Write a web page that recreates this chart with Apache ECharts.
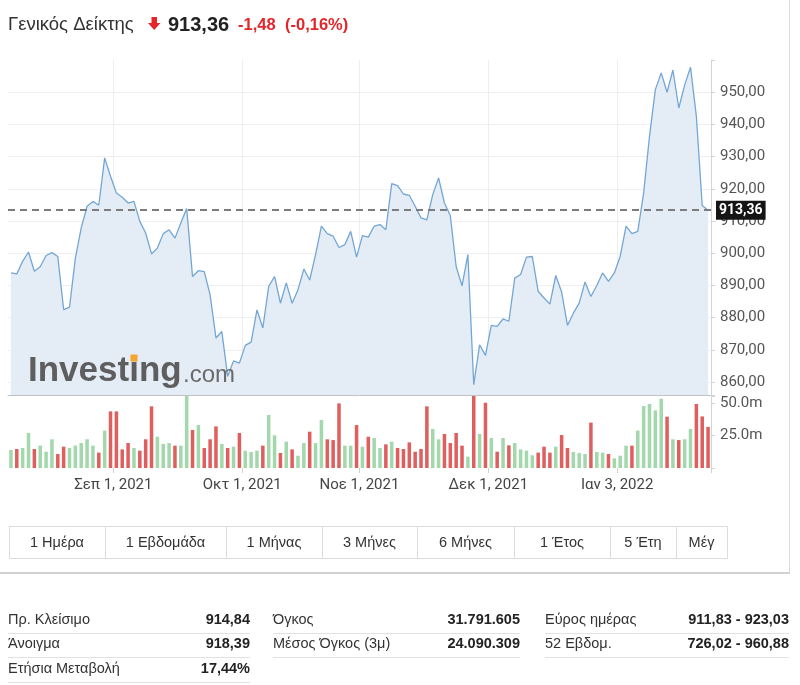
<!DOCTYPE html>
<html>
<head>
<meta charset="utf-8">
<script src="https://cdn.jsdelivr.net/npm/echarts@6/dist/echarts.min.js"></script>
<style>
html,body{margin:0;padding:0;background:#fff;}
#c{width:800px;height:685px;}
</style>
</head>
<body>
<div id="c"></div>
<script>
// ---------- DATA ----------
const dates = [
 '2021-08-05','2021-08-06','2021-08-09','2021-08-10','2021-08-11','2021-08-12','2021-08-13','2021-08-17','2021-08-18','2021-08-19',
 '2021-08-20','2021-08-23','2021-08-24','2021-08-25','2021-08-26','2021-08-27','2021-08-30','2021-08-31',
 '2021-09-01','2021-09-02','2021-09-03','2021-09-06','2021-09-07','2021-09-08','2021-09-09','2021-09-10','2021-09-13','2021-09-14',
 '2021-09-15','2021-09-16','2021-09-17','2021-09-20','2021-09-21','2021-09-22','2021-09-23','2021-09-24','2021-09-27','2021-09-28',
 '2021-09-29','2021-09-30',
 '2021-10-01','2021-10-04','2021-10-05','2021-10-06','2021-10-07','2021-10-08','2021-10-11','2021-10-12','2021-10-13','2021-10-14',
 '2021-10-15','2021-10-18','2021-10-19','2021-10-20','2021-10-21','2021-10-22','2021-10-25','2021-10-26','2021-10-27','2021-10-29',
 '2021-11-01','2021-11-02','2021-11-03','2021-11-04','2021-11-05','2021-11-08','2021-11-09','2021-11-10','2021-11-11','2021-11-12',
 '2021-11-15','2021-11-16','2021-11-17','2021-11-18','2021-11-19','2021-11-22','2021-11-23','2021-11-24','2021-11-25','2021-11-26',
 '2021-11-29','2021-11-30',
 '2021-12-01','2021-12-02','2021-12-03','2021-12-06','2021-12-07','2021-12-08','2021-12-09','2021-12-10','2021-12-13','2021-12-14',
 '2021-12-15','2021-12-16','2021-12-17','2021-12-20','2021-12-21','2021-12-22','2021-12-23','2021-12-27','2021-12-28','2021-12-29',
 '2021-12-30','2021-12-31',
 '2022-01-03','2022-01-04','2022-01-05','2022-01-07','2022-01-10','2022-01-11','2022-01-12','2022-01-13','2022-01-14','2022-01-17',
 '2022-01-18','2022-01-19','2022-01-20','2022-01-21','2022-01-24','2022-01-25'
];

const closePrices = [
 893.9, 893.6, 897.5, 900.4, 894.4, 895.8, 899.3, 900.2, 899.0, 882.5,
 883.3, 898.5, 907.9, 914.6, 916.1, 914.9, 929.6, 923.9, 918.7, 917.4,
 915.6, 916.1, 909.9, 906.3, 899.8, 901.6, 906.1, 907.3, 904.7, 909.4,
 913.9, 892.8, 894.6, 894.3, 887.1, 873.7, 875.7, 861.8, 866.6, 865.9,
 871.4, 872.4, 882.4, 876.8, 889.7, 892.8, 884.5, 890.8, 884.5, 888.7,
 895.1, 891.7, 899.6, 908.4, 906.1, 905.3, 901.8, 902.7, 906.8, 898.8,
 905.5, 905.0, 908.4, 908.9, 907.3, 921.6, 921.0, 918.4, 918.0, 914.6,
 911.0, 910.4, 918.2, 923.4, 915.6, 911.7, 895.9, 889.9, 899.6, 859.2,
 871.6, 868.3, 877.6, 877.3, 879.6, 878.9, 892.3, 893.4, 898.8, 899.0,
 888.2, 886.1, 884.2, 893.1, 888.0, 877.6, 881.4, 884.5, 891.1, 886.6,
 890.0, 893.9, 891.3, 893.9, 899.1, 908.4, 906.1, 906.8, 918.7, 936.3,
 950.8, 956.0, 950.0, 956.9, 945.1, 952.2, 957.8, 942.6, 914.84, 913.36
];

// volume in millions
const volumes = [
 13.9, 14.7, 15.5, 27.1, 14.7, 17.3, 12.6, 22.2, 10.8, 16.5,
 15.5, 17.3, 19.3, 22.2, 17.3, 11.9, 28.9, 43.8, 43.8, 14.4,
 19.3, 15.5, 13.4, 22.2, 47.7, 24.2, 18.6, 19.3, 17.3, 17.3,
 58.0, 29.4, 33.2, 15.5, 22.2, 32.2, 18.6, 15.5, 16.5, 27.1,
 13.4, 12.4, 13.4, 17.3, 41.0, 25.3, 11.6, 20.4, 14.4, 9.5,
 19.3, 28.1, 19.3, 37.1, 22.2, 21.6, 50.0, 17.3, 17.3, 33.2,
 16.5, 24.2, 23.2, 15.5, 18.3, 20.4, 15.5, 14.7, 19.8, 12.6,
 14.7, 47.7, 30.2, 22.2, 26.3, 19.3, 27.1, 17.3, 8.8, 57.0,
 26.3, 50.5, 23.2, 12.6, 23.2, 17.5, 19.3, 14.4, 13.4, 9.8,
 11.9, 16.5, 11.9, 16.5, 25.5, 15.5, 12.4, 11.6, 10.8, 35.1,
 12.4, 11.9, 10.8, 7.5, 9.5, 17.3, 17.3, 28.9, 47.9, 49.5,
 44.6, 53.6, 39.7, 22.2, 21.6, 22.2, 30.2, 49.5, 39.9, 31.8
];

const tickDates = ['2021-09-01','2021-10-01','2021-11-01','2021-12-01','2022-01-03'];
const tickLabels = ['Σεπ 1, 2021','Οκτ 1, 2021','Νοε 1, 2021','Δεκ 1, 2021','Ιαν 3, 2022'];

const headerName = 'Γενικός Δείκτης';
const headerPrice = '913,36';
const headerChange = '-1,48';
const headerChangePct = '(-0,16%)';

const rangeButtons = ['1 Ημέρα','1 Εβδομάδα','1 Μήνας','3 Μήνες','6 Μήνες','1 Έτος','5 Έτη','Μέγ'];

const statsCol1 = [['Πρ. Κλείσιμο','914,84'],['Άνοιγμα','918,39'],['Ετήσια Μεταβολή','17,44%']];
const statsCol2 = [['Όγκος','31.791.605'],['Μέσος Όγκος (3μ)','24.090.309']];
const statsCol3 = [['Εύρος ημέρας','911,83 - 923,03'],['52 Εβδομ.','726,02 - 960,88']];

// ---------- STYLE / LAYOUT ----------
const RED = '#e3262b';
const upColor = '#a3d7ac';
const downColor = '#df5e5e';
const uiFont = '"Liberation Sans", Arial, sans-serif';
const axisFont = 'Roboto, "Liberation Sans", sans-serif';

const fmtGr = v => v.toFixed(2).replace('.', ',');
const tickSet = new Set(tickDates.map(d => dates.indexOf(d)));
const lastPrice = closePrices[closePrices.length - 1];

const volumeData = volumes.map((v, i) => ({
  value: v,
  itemStyle: { color: (i === 0 || closePrices[i] >= closePrices[i - 1]) ? upColor : downColor }
}));

const graphics = [];
// header
graphics.push({type:'text', x:8, y:25, style:{text:headerName, font:'18.5px ' + uiFont, fill:'#333', verticalAlign:'middle'}});
graphics.push({type:'polygon', shape:{points:[[151.5,17],[157,17],[157,23],[160.5,23],[154.25,30],[148,23],[151.5,23]]}, style:{fill:RED}});
graphics.push({type:'text', x:168, y:25, style:{text:headerPrice, font:'bold 20px ' + uiFont, fill:'#222', verticalAlign:'middle'}});
graphics.push({type:'text', x:238, y:25, style:{text:headerChange, font:'bold 16.5px ' + uiFont, fill:RED, verticalAlign:'middle'}});
graphics.push({type:'text', x:285, y:25, style:{text:headerChangePct, font:'bold 16.5px ' + uiFont, fill:RED, verticalAlign:'middle'}});

// watermark
graphics.push({type:'text', x:28, y:371, z:5, style:{text:'Investing', font:'bold 35px ' + uiFont, fill:'#5e5e5e', verticalAlign:'middle'}});
graphics.push({type:'rect', z:6, shape:{x:130.5, y:354.5, width:7, height:7}, style:{fill:'#f3a530'}});
graphics.push({type:'text', x:183, y:375, z:5, style:{text:'.com', font:'24px ' + uiFont, fill:'#6a6a6a', verticalAlign:'middle'}});

// widget frame lines
graphics.push({type:'line', shape:{x1:789.5, y1:0, x2:789.5, y2:572}, style:{stroke:'#dcdcdc', lineWidth:1}});
graphics.push({type:'line', shape:{x1:0, y1:573, x2:790, y2:573}, style:{stroke:'#d2d2d2', lineWidth:2}});

// range buttons
const btnEdges = [9, 105, 226, 322, 417, 514, 610, 676, 727];
graphics.push({type:'rect', shape:{x:btnEdges[0] + 0.5, y:526.5, width:btnEdges[btnEdges.length-1] - btnEdges[0], height:32}, style:{fill:'#fff', stroke:'#dcdcdc', lineWidth:1}});
for (let i = 0; i < rangeButtons.length; i++) {
  if (i > 0) graphics.push({type:'line', shape:{x1:btnEdges[i] + 0.5, y1:527, x2:btnEdges[i] + 0.5, y2:558}, style:{stroke:'#dcdcdc', lineWidth:1}});
  graphics.push({type:'text', x:(btnEdges[i] + btnEdges[i+1]) / 2, y:542.5, style:{text:rangeButtons[i], font:'14.5px ' + uiFont, fill:'#333', align:'center', verticalAlign:'middle'}});
}

// stats table
const statCols = [
  {rows:statsCol1, lx:8, rx:250},
  {rows:statsCol2, lx:273, rx:520},
  {rows:statsCol3, lx:545, rx:789}
];
const rowY = [620, 644, 669];
statCols.forEach(col => {
  col.rows.forEach((r, j) => {
    graphics.push({type:'text', x:col.lx, y:rowY[j], style:{text:r[0], font:'14.5px ' + uiFont, fill:'#333', verticalAlign:'middle'}});
    graphics.push({type:'text', x:col.rx, y:rowY[j], style:{text:r[1], font:'bold 14.5px ' + uiFont, fill:'#222', align:'right', verticalAlign:'middle'}});
    graphics.push({type:'line', shape:{x1:col.lx, y1:rowY[j] + 13.5, x2:col.rx, y2:rowY[j] + 13.5}, style:{stroke:'#e2e2e2', lineWidth:1}});
  });
});

const chart = echarts.init(document.getElementById('c'), null, {renderer:'canvas'});
chart.setOption({
  animation: false,
  backgroundColor: '#fff',
  textStyle: {fontFamily: axisFont},
  grid: [
    {left:8, top:60, width:703, height:335, outerBoundsMode:'none', containLabel:false},
    {left:8, top:396, width:703, height:72, outerBoundsMode:'none', containLabel:false}
  ],
  xAxis: [
    {
      type:'category', gridIndex:0, data:dates, boundaryGap:true,
      axisLine:{show:true, lineStyle:{color:'#c2c2c2', width:1}},
      axisTick:{show:false}, axisLabel:{show:false},
      splitLine:{show:true, interval:(i) => tickSet.has(i), lineStyle:{color:'#eeeeee', width:1}}
    },
    {
      type:'category', gridIndex:1, data:dates, boundaryGap:true,
      axisLine:{show:false},
      axisTick:{show:true, interval:(i) => tickSet.has(i), length:5, lineStyle:{color:'#d0d0d0'}},
      axisLabel:{
        interval:(i) => tickSet.has(i),
        formatter:(v) => tickLabels[tickDates.indexOf(v)],
        color:'#444', fontFamily:axisFont, fontSize:15, margin:10, padding:[0,6,0,0]
      },
      splitLine:{show:false}
    }
  ],
  yAxis: [
    {
      type:'value', gridIndex:0, position:'right', min:856, max:960, splitNumber:10,
      axisLine:{show:true, lineStyle:{color:'#d4d4d4'}},
      axisTick:{show:true, length:4, lineStyle:{color:'#d4d4d4'}},
      axisLabel:{
        formatter:(v) => (v < 859.9 || v > 950.1) ? '' : fmtGr(v),
        color:'#555', fontFamily:axisFont, fontSize:15, margin:9
      },
      splitLine:{show:true, showMaxLine:false, showMinLine:false, lineStyle:{color:'#f0f0f0'}}
    },
    {
      type:'value', gridIndex:1, position:'right', min:0, max:55.7, interval:25,
      axisLine:{show:true, lineStyle:{color:'#d4d4d4'}},
      axisTick:{show:true, length:4, lineStyle:{color:'#d4d4d4'}},
      axisLabel:{
        formatter:(v) => (v === 25 || v === 50) ? v.toFixed(1) + 'm' : '',
        color:'#555', fontFamily:axisFont, fontSize:15, margin:9
      },
      splitLine:{show:false}
    }
  ],
  series: [
    {
      type:'line', xAxisIndex:0, yAxisIndex:0, data:closePrices,
      symbol:'none', smooth:false,
      lineStyle:{color:'#74a6d3', width:1.3},
      areaStyle:{color:'#e4edf6', opacity:1, origin:'start'},
      emphasis:{disabled:true},
      markLine:{
        silent:true, symbol:['none','none'],
        data:[{yAxis:lastPrice}],
        lineStyle:{type:[7,5], color:'#7c7c7c', width:2},
        label:{
          position:'end', distance:5, formatter:() => fmtGr(lastPrice),
          backgroundColor:'#151515', color:'#fff', fontWeight:'bold',
          fontFamily:axisFont, fontSize:14, padding:[3,3,2,3]
        }
      }
    },
    {
      type:'bar', xAxisIndex:1, yAxisIndex:1, data:volumeData,
      barWidth:'60%', emphasis:{disabled:true}
    }
  ],
  graphic: graphics
});
</script>
</body>
</html>
